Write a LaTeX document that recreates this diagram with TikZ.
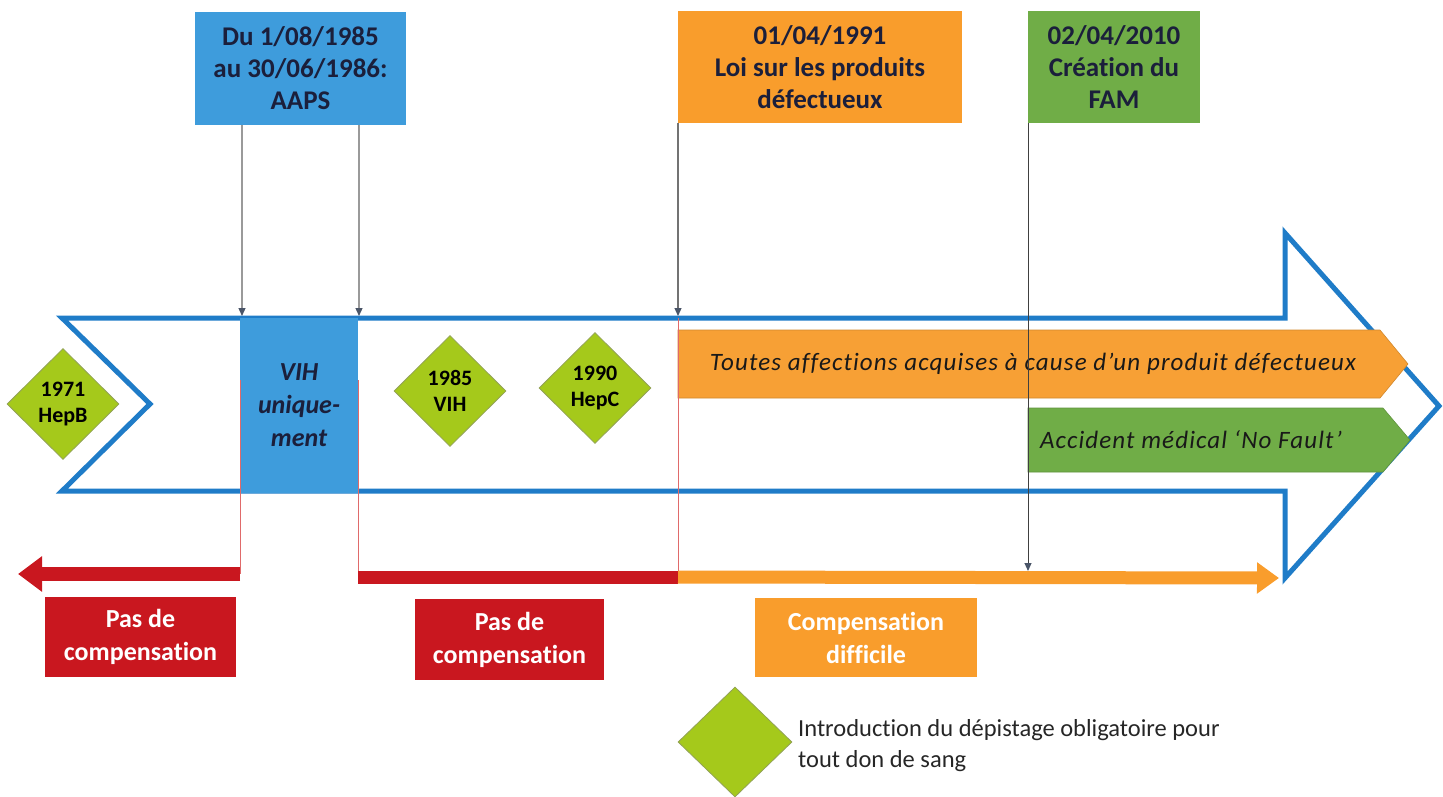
\documentclass[tikz,border=0pt]{standalone}
\usepackage{fontspec}
\setmainfont{Carlito}[Ligatures=NoCommon]
\newfontfamily\barfont{Carlito}[LetterSpace=4.5,Ligatures=NoCommon]
\usetikzlibrary{arrows.meta,shapes.geometric}
\definecolor{tlblue}{HTML}{1F7CC8}
\definecolor{boxblue}{HTML}{3E9CDC}
\definecolor{orng}{HTML}{F99D2C}
\definecolor{orngbar}{HTML}{F7A035}
\definecolor{grn}{HTML}{70AD47}
\definecolor{redbox}{HTML}{C9171F}
\definecolor{lime}{HTML}{A5C91B}
\definecolor{navy}{HTML}{1B1F3B}
\definecolor{tipgray}{HTML}{4A5568}
\definecolor{linegray}{HTML}{9A9A9A}
\definecolor{thinred}{HTML}{E06A6A}
\definecolor{ltext}{HTML}{262626}
\begin{document}
\begin{tikzpicture}[x=1pt,y=-1pt,
  topbox/.style={align=center, font=\bfseries\fontsize{27}{32}\selectfont, text=navy, inner sep=0pt},
  botbox/.style={align=center, font=\bfseries\fontsize{26}{33}\selectfont, text=white, inner sep=0pt},
  dia/.style={diamond, aspect=1, fill=lime, draw=lime!60!black!70!white, line width=0.8pt, inner sep=0pt,
     minimum width=112pt, minimum height=111pt, align=center, font=\bfseries\fontsize{22}{26}\selectfont},
  bartext/.style={font=\barfont\itshape\fontsize{25}{28}\selectfont, text=black!90, inner sep=0pt},
  pointer/.style={-{Triangle[length=8pt,width=7pt]}, line width=1.3pt},
  thinred/.style={draw=thinred, line width=1pt},
  fatline/.style={line width=14pt}
]
\useasboundingbox (0,0) rectangle (1443,797);

% big timeline arrow outline
\draw[tlblue, line width=5pt, line join=miter, fill=white]
  (62,318) -- (1285,318) -- (1285,233) -- (1439,406) -- (1285,578) -- (1285,491)
  -- (62,491) -- (150,404) -- cycle;

% top boxes
\node[topbox, fill=boxblue, minimum width=211pt, minimum height=113pt] (aaps) at (300.5,68.5)
  {Du 1/08/1985\\au 30/06/1986:\\AAPS};
\node[topbox, fill=orng, minimum width=284pt, minimum height=112pt] (loi) at (820,67)
  {01/04/1991\\Loi sur les produits\\défectueux};
\node[topbox, fill=grn, minimum width=172pt, minimum height=112pt] (fam) at (1114,67)
  {02/04/2010\\Création du\\FAM};

% VIH box
\node[fill=boxblue, minimum width=118pt, minimum height=175pt, inner sep=0pt, align=center,
  font=\bfseries\itshape\fontsize{26}{33}\selectfont, text=navy] (vih) at (299,405.5)
  {VIH\\unique-\\ment};

% bars
\fill[orngbar, draw=orngbar!85!black, line width=0.6pt] (678,330) -- (1380,330) -- (1408,364) -- (1380,398) -- (678,398) -- cycle;
\node[bartext] (toutes) at (1033,364) {Toutes affections acquises à cause d’un produit défectueux};
\fill[grn, draw=grn!85!black, line width=0.6pt] (1028,408) -- (1383,408) -- (1410,440) -- (1383,472) -- (1028,472) -- cycle;
\node[bartext] (nofault) at (1191,440) {Accident médical ‘No Fault’};

% coordinates on the timeline
\coordinate (a1) at (242,316);
\coordinate (a2) at (359,316);
\coordinate (a3) at (678,316);
\coordinate (r1top) at (240,380);
\coordinate (r2top) at (358,380);
\coordinate (r3top) at (678,318);
\coordinate (r1) at (240,574);
\coordinate (r2) at (358,577);
\coordinate (r3) at (678,577);
\coordinate (lefttip) at (18,574);
\coordinate (righttip) at (1279,578);
\coordinate (famend) at (1028,571);

% thin red verticals
\draw[thinred] (r1top) -- (r1);
\draw[thinred] (r2top) -- (r2);
\draw[thinred] (r3top) -- (r3);

% pointers from top boxes
\draw[pointer, draw=linegray, -{Triangle[length=8pt,width=7pt,color=tipgray]}] (aaps.south -| a1) -- (a1);
\draw[pointer, draw=linegray, -{Triangle[length=8pt,width=7pt,color=tipgray]}] (aaps.south -| a2) -- (a2);
\draw[pointer, draw=black!55, -{Triangle[length=8pt,width=7pt,color=tipgray]}] (loi.south -| a3) -- (a3);

% compensation lines
\draw[redbox, fatline, -{Triangle[length=24pt,width=34pt]}] (r1) -- (lefttip);
\draw[redbox, line width=13pt] (r2) -- (r3);
\draw[orng, line width=13pt, -{Triangle[length=22pt,width=30pt]}] (r3) -- (righttip);

% FAM line
\draw[black!75, line width=1pt, -{Triangle[length=8pt,width=7pt,color=tipgray]}] (fam.south -| famend) -- (famend);

% diamonds
\node[dia] (hepb) at (63,404) {1971\\HepB};
\node[dia] (vihd) at (450,391) {1985\\VIH};
\node[dia] (hepc) at (595,388) {1990\\HepC};

% bottom boxes
\node[botbox, fill=redbox, minimum width=191pt, minimum height=80pt] (pas1) at (140.5,637) {Pas de\\compensation};
\node[botbox, fill=redbox, minimum width=189pt, minimum height=81pt] (pas2) at (509.5,639.5) {Pas de\\compensation};
\node[botbox, fill=orng, minimum width=222pt, minimum height=79pt] (diff) at (866,637.5) {Compensation\\difficile};

% legend
\node[dia, minimum width=114pt, minimum height=110pt] (leg) at (735,742) {};
\node[anchor=west, align=left, inner sep=0pt, font=\fontsize{24.5}{31}\selectfont, text=ltext] (legtext) at (798,746)
  {Introduction du dépistage obligatoire pour\\tout don de sang};
\end{tikzpicture}
\end{document}
